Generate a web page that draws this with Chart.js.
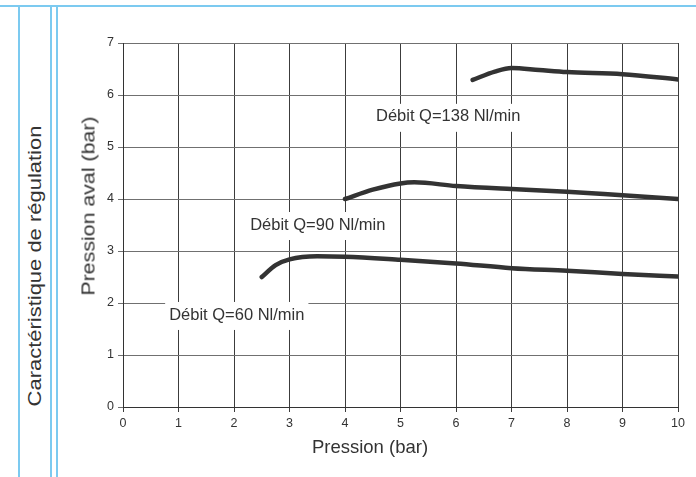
<!DOCTYPE html>
<html>
<head>
<meta charset="utf-8">
<script src="https://cdn.jsdelivr.net/npm/chart.js@4"></script>
<style>
  html, body { margin: 0; padding: 0; background: #fff; }
  body { width: 696px; height: 477px; position: relative; overflow: hidden; }
  .line-top { position: absolute; left: 0; top: 5px; width: 696px; height: 2px; background: #7ccaf0; }
  .line-v { position: absolute; top: 6px; width: 2px; height: 471px; background: #7ccaf0; }
  .side-title, .axis-title {
    position: absolute;
    font-family: "Liberation Sans", Arial, sans-serif; color: #333;
    white-space: nowrap;
  }
  .side-title {
    left: 35px; top: 266px; font-size: 18px;
    transform: translate(-50%, -50%) rotate(-90deg) scaleX(1.22);
  }
  .y-title {
    left: 89px; top: 206px; font-size: 17.5px;
    transform: translate(-50%, -50%) rotate(-90deg) scaleX(1.22);
  }
  .x-title {
    left: 370px; top: 447px; font-size: 18.5px;
    transform: translate(-50%, -50%);
  }
  .chart-box { position: absolute; left: 60px; top: 0; width: 636px; height: 477px; }
</style>
</head>
<body>
<div class="line-top"></div>
<div class="line-v" style="left:18px"></div>
<div class="line-v" style="left:50px"></div>
<div class="line-v" style="left:56px"></div>
<div class="chart-box"><canvas id="chart"></canvas></div>
<div class="side-title">Caractéristique de régulation</div>
<div class="axis-title y-title">Pression aval (bar)</div>
<div class="axis-title x-title">Pression (bar)</div>

<script>
// upstream pressure (bar) vs downstream pressure (bar), one curve per flow rate
const flow60X = [2.5, 2.75, 3, 3.5, 4, 5, 6, 7, 8, 9, 10];
const flow60Y = [2.5, 2.73, 2.84, 2.9, 2.89, 2.83, 2.76, 2.67, 2.62, 2.56, 2.51];

const flow90X = [4, 4.5, 5, 5.25, 6, 7, 8, 9, 10];
const flow90Y = [4.0, 4.18, 4.3, 4.32, 4.25, 4.19, 4.14, 4.07, 4.0];

const flow138X = [6.3, 6.7, 7, 7.5, 8, 9, 10];
const flow138Y = [6.29, 6.45, 6.52, 6.48, 6.44, 6.4, 6.3];

const flowLabels = ['Débit Q=60 Nl/min', 'Débit Q=90 Nl/min', 'Débit Q=138 Nl/min'];
const labelAtX = [2.05, 3.51, 5.86];
const labelAtY = [1.77, 3.5, 5.58];

const xTicks = [0, 1, 2, 3, 4, 5, 6, 7, 8, 9, 10];
const yTicks = [0, 1, 2, 3, 4, 5, 6, 7];

const font = '"Liberation Sans", Arial, sans-serif';

const toPoints = (xs, ys) => xs.map((x, i) => ({ x, y: ys[i] }));

const curve = (xs, ys) => ({
  data: toPoints(xs, ys),
  borderColor: '#333',
  borderWidth: 4.5,
  pointRadius: 0,
  cubicInterpolationMode: 'monotone',
  borderCapStyle: 'round',
  borderJoinStyle: 'round',
  fill: false,
});

// white boxed captions that cut through the grid
const captions = {
  id: 'captions',
  beforeDatasetsDraw(chart) {
    const { ctx, scales } = chart;
    ctx.save();
    ctx.font = '16.5px ' + font;
    ctx.textAlign = 'center';
    ctx.textBaseline = 'middle';
    flowLabels.forEach((txt, i) => {
      const cx = scales.x.getPixelForValue(labelAtX[i]);
      const cy = scales.y.getPixelForValue(labelAtY[i]);
      const w = ctx.measureText(txt).width + 8;
      ctx.fillStyle = '#fff';
      ctx.fillRect(cx - w / 2, cy - 13, w, 28);
      ctx.fillStyle = '#333';
      ctx.fillText(txt, cx, cy);
    });
    ctx.restore();
  },
};

new Chart(document.getElementById('chart'), {
  type: 'line',
  data: {
    datasets: [curve(flow60X, flow60Y), curve(flow90X, flow90Y), curve(flow138X, flow138Y)],
  },
  options: {
    responsive: true,
    maintainAspectRatio: false,
    animation: false,
    layout: { padding: { top: 43, right: 18, bottom: 0, left: 0 } },
    plugins: {
      legend: { display: false },
      tooltip: { enabled: false },
    },
    scales: {
      x: {
        type: 'linear',
        min: 0,
        max: 10,
        afterBuildTicks: (scale) => { scale.ticks = xTicks.map(v => ({ value: v })); },
        afterFit: (scale) => { scale.height = 70; },
        ticks: { color: '#333', font: { family: font, size: 12.5 }, padding: 4 },
        grid: { color: '#3c3c3c', tickLength: 5 },
        border: { color: '#333' },
      },
      y: {
        min: 0,
        max: 7,
        afterBuildTicks: (scale) => { scale.ticks = yTicks.map(v => ({ value: v })); },
        afterFit: (scale) => { scale.width = 63; },
        ticks: { color: '#333', font: { family: font, size: 12.5 }, padding: 4 },
        grid: { color: '#707070', tickLength: 5 },
        border: { color: '#333' },
      },
    },
  },
  plugins: [captions],
});
</script>
</body>
</html>
